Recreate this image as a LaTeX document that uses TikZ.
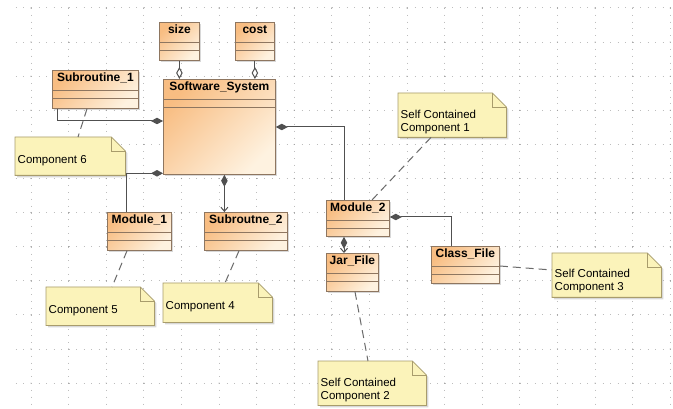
\documentclass[tikz,border=0pt]{standalone}
\usepackage{fontspec}
\setmainfont{Liberation Sans}
\usetikzlibrary{arrows.meta,backgrounds,shadows}

\definecolor{clsdark}{HTML}{F8BD82}
\definecolor{clslight}{HTML}{FEF2E0}
\definecolor{clsline}{HTML}{8E7660}
\definecolor{notefill}{HTML}{FBF3BA}
\definecolor{noteline}{HTML}{A89C6C}
\definecolor{wire}{HTML}{505050}
\definecolor{griddot}{HTML}{BDBDBD}

\begin{document}
\begin{tikzpicture}[
  x=1pt, y=-1pt,
  font=\fontsize{11.5}{12.5}\selectfont,
  comptip/.tip={Diamond[length=12pt,width=6.5pt]},
  aggtip/.tip={Diamond[length=12pt,width=6.5pt,fill=white]},
  navtip/.tip={Straight Barb[length=4pt,width=7pt]},
  hgrid/.style={griddot, line width=1pt, dash pattern=on 1pt off 6.52pt},
  vgrid/.style={griddot, line width=1pt, dash pattern=on 1pt off 5.82pt},
  umlclass/.style={draw=clsline, line width=0.8pt, anchor=north west, inner sep=0pt,
    left color=clsdark, right color=clslight, shading angle=45,
    drop shadow={shadow xshift=2pt, shadow yshift=-2pt, opacity=.3}},
  classname/.style={anchor=north, inner sep=3pt, font=\fontsize{12}{14}\selectfont\bfseries},
  note/.style={anchor=north west, inner sep=0pt},
  notebody/.style={fill=notefill, draw=noteline, line width=0.8pt,
    drop shadow={shadow xshift=2pt, shadow yshift=-2pt, opacity=.3}},
  notetext/.style={anchor=west, inner sep=2.5pt, align=left, yshift=-4pt},
  link/.style={draw=wire, line width=1pt},
  notelink/.style={draw=wire!85, line width=1pt, dash pattern=on 8pt off 5pt}
]

\useasboundingbox (0,0) rectangle (673,409);

% paper and dotted grid
\begin{pgfonlayer}{background}
\fill[white] (0,0) rectangle (673,409);
\foreach \i in {0,...,17}
  \draw[vgrid] (31+37.6*\i,8) -- (31+37.6*\i,409);
\foreach \j in {0,...,11}
  \draw[hgrid] (15.96,8+34.1*\j) -- (673,8+34.1*\j);
\foreach \i in {0,...,17}
  \foreach \j in {0,...,11}
    \fill[gray!80] (31+37.6*\i,8+34.1*\j) circle (0.6pt);
\end{pgfonlayer}

% classes
\node[umlclass, minimum width=40pt, minimum height=38pt,
  label={[classname]north:size}] (size) at (159,22) {};
\node[umlclass, minimum width=39pt, minimum height=38pt,
  label={[classname]north:cost}] (cost) at (235,22) {};
\node[umlclass, minimum width=86pt, minimum height=38pt,
  label={[classname]north:Subroutine\_1}] (sub1) at (52,70) {};
\node[umlclass, minimum width=112pt, minimum height=95pt,
  label={[classname]north:Software\_System}] (sys) at (163,79) {};
\node[umlclass, minimum width=64pt, minimum height=38pt,
  label={[classname]north:Module\_1}] (mod1) at (107,212) {};
\node[umlclass, minimum width=83pt, minimum height=38pt,
  label={[classname]north:Subroutne\_2}] (sub2) at (204,212) {};
\node[umlclass, minimum width=63pt, minimum height=36pt,
  label={[classname]north:Module\_2}] (mod2) at (326,200) {};
\node[umlclass, minimum width=52pt, minimum height=38pt,
  label={[classname]north:Jar\_File}] (jar) at (326,253) {};
\node[umlclass, minimum width=68pt, minimum height=37pt,
  label={[classname]north:Class\_File}] (cls) at (431,246) {};

% compartments
\foreach \c in {size,cost,sub1,sys,mod1,sub2,mod2,jar,cls}
  \draw[clsline, line width=0.8pt]
    ([yshift=-20pt]\c.north west) -- ([yshift=-20pt]\c.north east)
    ([yshift=-28.5pt]\c.north west) -- ([yshift=-28.5pt]\c.north east);

% notes
\node[note, minimum width=110pt, minimum height=38pt,
  label={[notetext]west:Component 6}] (c6) at (15,137) {};
\node[note, minimum width=108pt, minimum height=38pt,
  label={[notetext]west:Component 5}] (c5) at (46,287) {};
\node[note, minimum width=109pt, minimum height=39pt,
  label={[notetext]west:Component 4}] (c4) at (163,283) {};
\node[note, minimum width=108pt, minimum height=44pt,
  label={[notetext, yshift=-3pt]west:Self Contained\\Component 1}] (sc1) at (398,93) {};
\node[note, minimum width=109pt, minimum height=44pt,
  label={[notetext, yshift=-2pt]west:Self Contained\\Component 3}] (sc3) at (552,253) {};
\node[note, minimum width=108pt, minimum height=44pt,
  label={[notetext, yshift=-3pt]west:Self Contained\\Component 2}] (sc2) at (318,361) {};

\begin{pgfonlayer}{background}
\foreach \n in {c6,c5,c4,sc1,sc3,sc2} {
  \path[notebody] (\n.south west) -- (\n.north west) -- ([xshift=-14pt]\n.north east)
    -- ([yshift=-14pt]\n.north east) -- (\n.south east) -- cycle;
  \draw[noteline, line width=0.8pt] ([xshift=-14pt]\n.north east) |- ([yshift=-14pt]\n.north east);
}
\end{pgfonlayer}

% associations
\draw[link, -aggtip] (size.south) -- (size.south |- sys.north);
\draw[link, -aggtip] (cost.south) -- (cost.south |- sys.north);
\draw[link, -comptip] ([xshift=5pt]sub1.south west) |- ([yshift=-42pt]sys.north west);
\draw[link, comptip-] ([yshift=1.5pt]sys.south west) -| ([xshift=19pt]mod1.north west);
\draw[link, comptip-navtip] ([xshift=5pt]sys.south) -- ([xshift=5pt]sys.south |- sub2.north);
\draw[link, comptip-] ([yshift=-48pt]sys.north east) -| ([xshift=18pt]mod2.north west);
\draw[link, comptip-navtip] ([xshift=18pt]mod2.south west) -- ([xshift=18pt]jar.north west);
\draw[link, comptip-] ([yshift=-17pt]mod2.north east) -| ([xshift=20pt]cls.north west);

% note anchors
\draw[notelink] ([xshift=35pt]sub1.south west) -- ([xshift=63pt]c6.north west);
\draw[notelink] ([xshift=20pt]mod1.south west) -- ([xshift=66pt]c5.north west);
\draw[notelink] ([xshift=35pt]sub2.south west) -- ([xshift=62pt]c4.north west);
\draw[notelink] ([xshift=33pt]sc1.south west) -- ([xshift=46pt]mod2.north west);
\draw[notelink] ([yshift=-20pt]cls.north east) -- ([yshift=-17pt]sc3.north west);
\draw[notelink] ([xshift=29pt]jar.south west) -- ([xshift=50pt]sc2.north west);

\end{tikzpicture}
\end{document}
